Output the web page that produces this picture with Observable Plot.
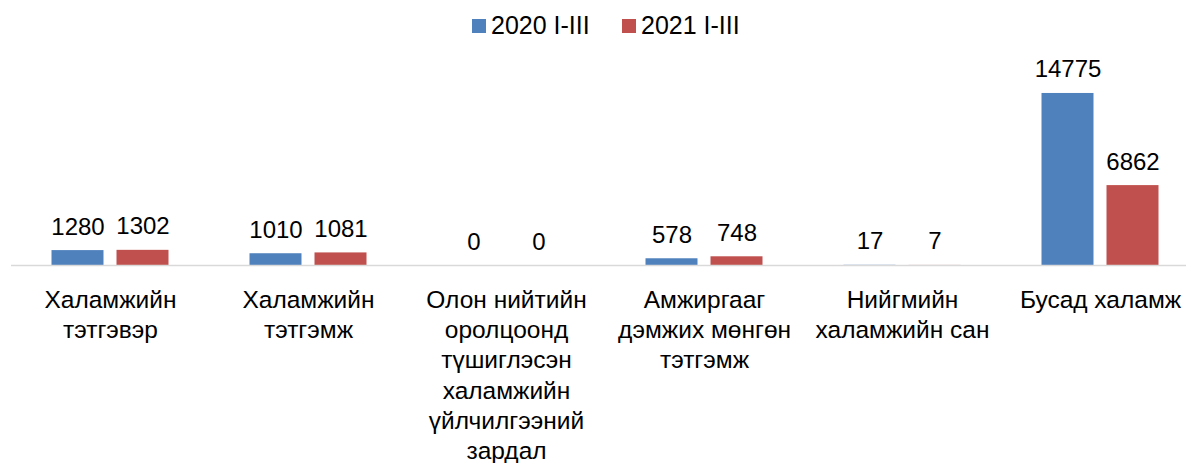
<!DOCTYPE html>
<html><head><meta charset="utf-8">
<script src="https://cdn.jsdelivr.net/npm/d3@7"></script>
<script src="https://cdn.jsdelivr.net/npm/@observablehq/plot@0.6"></script>
<style>
body{margin:0;background:#fff;font-family:"Liberation Sans",Arial,sans-serif;overflow:hidden}
#legend{position:relative;height:50px;font-size:25px;color:#000}
.sw{position:absolute;width:14px;height:14px;top:19px}
.lt{position:absolute;top:11px;line-height:28px;white-space:nowrap}
</style></head><body>
<div id="legend"></div>
<div id="chart"></div>
<script>
const categories = [
  "Халамжийн\nтэтгэвэр",
  "Халамжийн\nтэтгэмж",
  "Олон нийтийн\nоролцоонд\nтүшиглэсэн\nхаламжийн\nүйлчилгээний\nзардал",
  "Амжиргааг\nдэмжих мөнгөн\nтэтгэмж",
  "Нийгмийн\nхаламжийн сан",
  "Бусад халамж"
];
const series = ["2020 I-III", "2021 I-III"];
const values2020 = [1280, 1010, 0, 578, 17, 14775];
const values2021 = [1302, 1081, 0, 748, 7, 6862];
const colors = ["#4F81BD", "#C0504D"];

const data = categories.flatMap((c, i) => [
  {cat: c, series: series[0], value: values2020[i]},
  {cat: c, series: series[1], value: values2021[i]}
]);

const legend = document.getElementById("legend");
const swatchLeft = [472, 622];
series.forEach((s, i) => {
  const sw = document.createElement("span");
  sw.className = "sw";
  sw.style.left = swatchLeft[i] + "px";
  sw.style.background = colors[i];
  const t = document.createElement("span");
  t.className = "lt";
  t.style.left = (swatchLeft[i] + 19) + "px";
  t.textContent = s;
  legend.appendChild(sw); legend.appendChild(t);
});

const chart = Plot.plot({
  width: 1186,
  height: 413,
  marginTop: 28.7,
  marginBottom: 198,
  marginLeft: 10.5,
  marginRight: 0,
  fx: {domain: categories, range: [10.5, 1198.5], padding: 0, label: null},
  x: {domain: series, paddingInner: 0.197, paddingOuter: 0.6, axis: null},
  y: {domain: [0, 16000], axis: null},
  color: {domain: series, range: colors},
  style: {fontFamily: "'Liberation Sans', Arial, sans-serif", fontSize: "24px", color: "#000", background: "#fff"},
  marks: [
    Plot.barY(data, {fx: "cat", x: "series", y: "value", fill: "series"}),
    Plot.ruleY([0], {stroke: "#d9d9d9", strokeWidth: 1.3}),
    Plot.text(data, {fx: "cat", x: "series", y: "value", text: d => String(d.value), lineAnchor: "bottom", dy: -16, fontSize: 24, fill: "#000"}),
    Plot.axisFx({anchor: "bottom", tickSize: 0, tickPadding: 21, fontSize: 24.5, lineHeight: 1.235, label: null, fill: "#000"})
  ]
});
document.getElementById("chart").appendChild(chart);
</script>
</body></html>
